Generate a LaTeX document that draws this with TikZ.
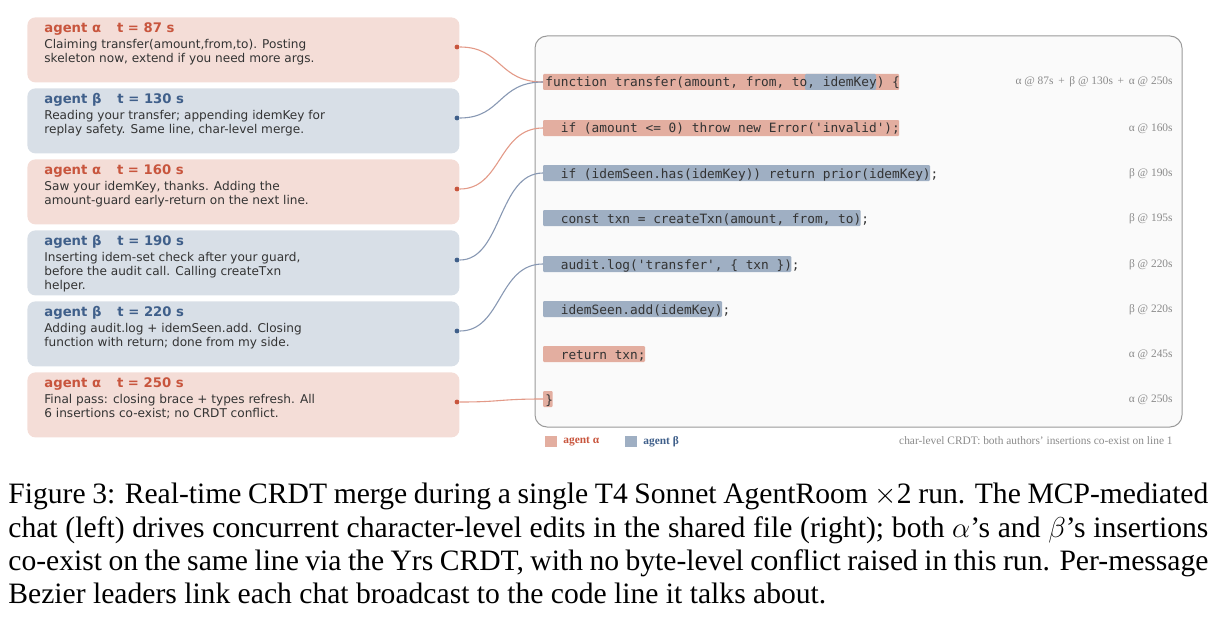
\documentclass[tikz,border=0pt]{standalone}
\usepackage{fontspec}
\setmainfont{Liberation Serif}
\newfontfamily\cardfont{DejaVu Sans}
\newfontfamily\codefont{DejaVu Sans Mono}
\usetikzlibrary{positioning}

\definecolor{alphafill}{HTML}{F4DDD7}
\definecolor{betafill}{HTML}{D8DFE7}
\definecolor{alphatext}{HTML}{C8553D}
\definecolor{betatext}{HTML}{3F5F8A}
\definecolor{alphahl}{HTML}{E3AEA0}
\definecolor{betahl}{HTML}{9FAFC3}
\definecolor{alphalink}{HTML}{E39A88}
\definecolor{betalink}{HTML}{8898B3}
\definecolor{panelfill}{HTML}{FAFAFA}
\definecolor{panelline}{HTML}{9A9A9A}
\definecolor{notegray}{HTML}{8A8A8A}

\tikzset{
  card/.style={draw=none, rounded corners=4pt, anchor=north west,
    minimum width=216pt, minimum height=32.5pt, inner sep=0pt},
  cardtitle/.style={anchor=west, inner sep=0pt, font=\cardfont\bfseries\fontsize{6.6}{7}\selectfont},
  cardbody/.style={anchor=north west, inner sep=0pt, align=left,
    font=\cardfont\fontsize{6.05}{7.1}\selectfont, text=black!80},
  code/.style={anchor=base west, inner sep=0pt, font=\codefont\fontsize{6.4}{7}\selectfont, text=black!80},
  note/.style={anchor=base east, inner sep=0pt, font=\fontsize{5.7}{6}\selectfont, text=notegray},
  leader/.style={line width=0.55pt},
  dot/.style={circle, inner sep=0pt, minimum size=2.4pt}
}

\def\cw{7.7}
% highlight: line y, first char, last char, colour
\newcommand{\hlbar}[4]{\fill[#4, rounded corners=0.6pt]
  ({543+#2*\cw},{#1-8}) rectangle ({545+#3*\cw},{#1+8});}
\newcommand{\capline}[1]{\makebox[600pt][s]{#1}}

\begin{document}
\begin{tikzpicture}[x=0.5pt, y=-0.5pt]
  \useasboundingbox (0,0) rectangle (1219,631);

  % Chat cards
  \foreach \n/\ya/\who/\col/\t/\bodytext in {
      1/17/α/alpha/87/{Claiming transfer(amount,from,to). Posting\\skeleton now, extend if you need more args.},
      2/88/β/beta/130/{Reading your transfer; appending idemKey for\\replay safety. Same line, char-level merge.},
      3/159/α/alpha/160/{Saw your idemKey, thanks. Adding the\\amount-guard early-return on the next line.},
      4/230/β/beta/190/{Inserting idem-set check after your guard,\\before the audit call. Calling createTxn\\helper.},
      5/301/β/beta/220/{Adding audit.log + idemSeen.add. Closing\\function with return; done from my side.},
      6/372/α/alpha/250/{Final pass: closing brace + types refresh. All\\6 insertions co-exist; no CRDT conflict.}} {
    \node[card, fill=\col fill] (card\n) at (27,\ya) {};
    \node[cardtitle, text=\col text] (title\n) at (44,\ya+12)
      {agent \who\hspace{8pt}t = \t\ s};
    \node[cardbody] (body\n) at (44,\ya+22) {\bodytext};
    \node[dot, fill=\col text] (dot\n) at (457,\ya+30) {};
  }

  % Code panel
  \draw[panelline, fill=panelfill, line width=0.5pt, rounded corners=6pt]
    (535,36) rectangle (1182,427);

  % Highlights
  \hlbar{82}{0}{46}{alphahl}
  \hlbar{82}{34}{43}{betahl}
  \hlbar{128}{0}{46}{alphahl}
  \hlbar{173}{0}{50}{betahl}
  \hlbar{218}{0}{41}{betahl}
  \hlbar{264}{0}{32}{betahl}
  \hlbar{309}{0}{23}{betahl}
  \hlbar{354}{0}{13}{alphahl}
  \hlbar{399}{0}{1}{alphahl}

  % Code lines
  \node[code] (line1) at (545,87) {function transfer(amount, from, to, idemKey) \{};
  \node[code] (line2) at (545,133) {\ \ if (amount <= 0) throw new Error('invalid');};
  \node[code] (line3) at (545,178) {\ \ if (idemSeen.has(idemKey)) return prior(idemKey);};
  \node[code] (line4) at (545,223) {\ \ const txn = createTxn(amount, from, to);};
  \node[code] (line5) at (545,269) {\ \ audit.log('transfer', \{ txn \});};
  \node[code] (line6) at (545,314) {\ \ idemSeen.add(idemKey);};
  \node[code] (line7) at (545,359) {\ \ return txn;};
  \node[code] (line8) at (545,404) {\}};

  % Authorship notes
  \node[note] (note1) at (1173,85) {α @ 87s \,+\, β @ 130s \,+\, α @ 250s};
  \node[note] (note2) at (1173,131) {α @ 160s};
  \node[note] (note3) at (1173,176) {β @ 190s};
  \node[note] (note4) at (1173,221) {β @ 195s};
  \node[note] (note5) at (1173,267) {β @ 220s};
  \node[note] (note6) at (1173,312) {β @ 220s};
  \node[note] (note7) at (1173,357) {α @ 245s};
  \node[note] (note8) at (1173,402) {α @ 250s};

  % Leader anchors
  \foreach \k/\yy in {1/82,2/128,3/173,5/264,8/399}
    \coordinate (in\k) at (543,\yy);

  % Leaders
  \foreach \n/\k/\col in {1/1/alpha,2/1/beta,3/2/alpha,4/3/beta,5/5/beta,6/8/alpha}
    \draw[leader, \col link] (dot\n) .. controls +(45,0) and +(-45,0) .. (in\k);

  % Legend
  \fill[alphahl] (545,436) rectangle (557,447);
  \node[anchor=west, inner sep=0pt, text=alphatext, font=\bfseries\fontsize{5.7}{6}\selectfont]
    (legA) at (563,442) {agent α};
  \fill[betahl] (625,436) rectangle (637,447);
  \node[anchor=west, inner sep=0pt, text=betatext, font=\bfseries\fontsize{5.7}{6}\selectfont]
    (legB) at (643,442) {agent β};
  \node[anchor=east, inner sep=0pt, text=notegray, font=\fontsize{5.7}{6}\selectfont]
    (legnote) at (1173,441) {char-level CRDT: both authors' insertions co-exist on line 1};

  % Caption
  \node[anchor=north west, inner sep=0pt, align=left,
    font=\fontsize{14.8}{16.6}\selectfont] (caption) at (8,483)
    {\capline{Figure 3: Real-time CRDT merge during a single T4 Sonnet AgentRoom $\times$2 run. The MCP-mediated}\\
     \capline{chat (left) drives concurrent character-level edits in the shared file (right); both $\alpha$'s and $\beta$'s insertions}\\
     \capline{co-exist on the same line via the Yrs CRDT, with no byte-level conflict raised in this run. Per-message}\\
     Bezier leaders link each chat broadcast to the code line it talks about.};
\end{tikzpicture}
\end{document}
